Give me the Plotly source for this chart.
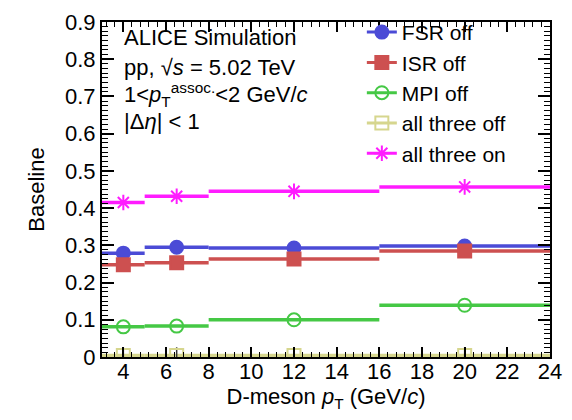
import plotly.graph_objects as go

# ---- data ----
bin_lo = [3, 5, 8, 16]
bin_hi = [5, 8, 16, 24]
centers = [4, 6.5, 12, 20]

fsr_off = [0.279, 0.295, 0.293, 0.298]
isr_off = [0.248, 0.253, 0.263, 0.285]
mpi_off = [0.081, 0.083, 0.100, 0.139]
all_off = [0.004, 0.004, 0.004, 0.004]
all_off_err = [0.022, 0.022, 0.022, 0.022]
all_on = [0.415, 0.432, 0.445, 0.457]

series = [
    ("FSR off", fsr_off, "#4b4bd6", "circle", None),
    ("ISR off", isr_off, "#cd5050", "square", None),
    ("MPI off", mpi_off, "#45c845", "circle-open", None),
    ("all three off", all_off, "#d6d68e", "square-open", all_off_err),
    ("all three on", all_on, "#ff1cff", "asterisk-open", None),
]

FONT = "Liberation Sans, Arial, Helvetica, sans-serif"
MSIZE = 13
FS = 22

fig = go.Figure()
for name, vals, col, sym, err in series:
    # horizontal bin-width segments
    xs, ys = [], []
    for lo, hi, v in zip(bin_lo, bin_hi, vals):
        xs += [lo, hi, None]
        ys += [v, v, None]
    fig.add_trace(go.Scatter(x=xs, y=ys, mode="lines", showlegend=False,
                             line=dict(color=col, width=3.5),
                             hoverinfo="skip"))
    # markers at bin centres (isolated points, so no connecting lines)
    mx, my, me = [], [], []
    for i, (c, v) in enumerate(zip(centers, vals)):
        mx += [c, None]
        my += [v, None]
        me += [(err[i] if err else 0), 0]
    tr = dict(
        x=mx, y=my, name=name, mode="lines+markers",
        line=dict(color=col, width=3),
        marker=dict(symbol=sym, size=MSIZE, color=col,
                    line=dict(color=col, width=2)),
        connectgaps=False,
    )
    if err:
        tr["error_y"] = dict(type="data", array=me, visible=True,
                             color="#333333", thickness=1.5, width=0)
    fig.add_trace(go.Scatter(**tr))

fig.update_layout(
    width=572, height=420,
    margin=dict(l=102, r=14, t=10, b=63),
    paper_bgcolor="white", plot_bgcolor="white",
    font=dict(family=FONT, size=FS, color="black"),
    showlegend=True,
    legend=dict(
        x=0.58, y=1.03, xanchor="left", yanchor="top",
        bgcolor="rgba(0,0,0,0)", font=dict(size=21),
        itemsizing="trace", tracegroupgap=0,
    ),
)

fig.update_xaxes(
    range=[3, 24], tickmode="linear", tick0=0, dtick=2,
    showgrid=False, zeroline=False,
    showline=True, linecolor="black", linewidth=2, mirror="allticks",
    ticks="inside", ticklen=10, tickwidth=1.5, tickcolor="black",
    minor=dict(ticks="inside", ticklen=5, dtick=0.4, tick0=0,
               tickcolor="black", tickwidth=1.2, showgrid=False),
    ticklabelstandoff=-6,
    title=dict(text="D-meson <i>p</i><sub>T</sub> (GeV/<i>c</i>)",
               font=dict(size=FS), standoff=0),
    tickfont=dict(size=FS),
)
fig.update_yaxes(
    range=[0, 0.9], tickmode="linear", tick0=0, dtick=0.1,
    showgrid=False, zeroline=False,
    showline=True, linecolor="black", linewidth=2, mirror="allticks",
    ticks="inside", ticklen=12, tickwidth=1.5, tickcolor="black",
    minor=dict(ticks="inside", ticklen=6, dtick=0.0125, tick0=0,
               tickcolor="black", tickwidth=1.2, showgrid=False),
    title=dict(text="Baseline", font=dict(size=FS), standoff=14),
    tickfont=dict(size=FS),
)

notes = [
    ("ALICE Simulation", 0.955),
    ("pp, \u221a<i>s</i> = 5.02 TeV", 0.865),
    ("1&lt;<i>p</i><sub>T</sub><sup>assoc.</sup>&lt;2 GeV/<i>c</i>", 0.784),
    ("|\u0394<i>\u03b7</i>| &lt; 1", 0.702),
]
for txt, yy in notes:
    fig.add_annotation(text=txt, x=0.045, y=yy, xref="paper", yref="paper",
                       xanchor="left", yanchor="middle", showarrow=False,
                       font=dict(size=FS, family=FONT, color="black"))

fig.write_html("out.html")
